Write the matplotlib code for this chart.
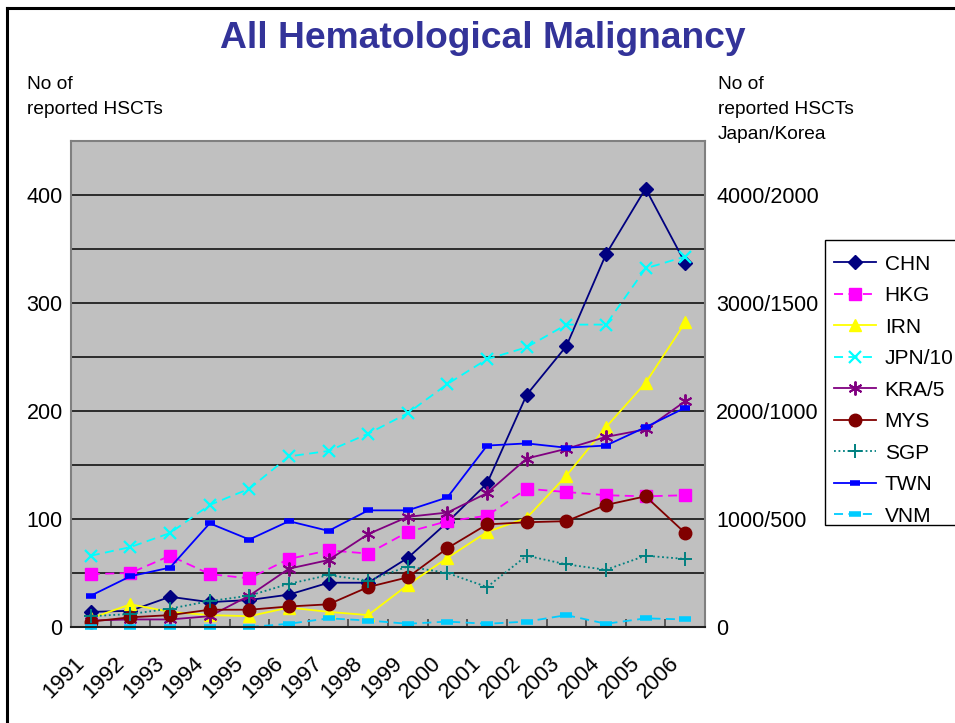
import matplotlib
matplotlib.use('Agg')
import matplotlib.pyplot as plt
from matplotlib.lines import Line2D
from matplotlib.patches import Rectangle
from matplotlib.transforms import ScaledTranslation
from matplotlib.ticker import MultipleLocator, FixedLocator, NullFormatter

plt.rcParams['font.family'] = ['Liberation Sans', 'DejaVu Sans']

years = ['1991', '1992', '1993', '1994', '1995', '1996', '1997', '1998',
         '1999', '2000', '2001', '2002', '2003', '2004', '2005', '2006']

chn = [14, 15, 28, 23, 25, 30, 41, 41, 64, 97, 133, 215, 260, 345, 406, 337]
hkg = [49, 50, 66, 49, 45, 63, 71, 68, 88, 98, 103, 128, 125, 122, 121, 122]
irn = [8, 21, 14, 11, 10, 18, 14, 11, 39, 64, 88, 101, 140, 185, 226, 282]
jpn10 = [66, 74, 87, 113, 128, 158, 163, 179, 198, 225, 248, 259, 280, 280, 332, 343]
kra5 = [6, 7, 7, 10, 29, 54, 62, 86, 102, 106, 124, 156, 165, 176, 183, 209]
mys = [5, 9, 11, 16, 16, 19, 21, 37, 46, 73, 95, 97, 98, 113, 121, 87]
sgp = [10, 12, 17, 24, 29, 40, 48, 43, 56, 50, 37, 66, 58, 53, 66, 63]
twn = [29, 47, 55, 96, 81, 98, 89, 108, 108, 120, 168, 170, 166, 168, 185, 203]
vnm = [0, 0, 0, 0, 0, 3, 8, 6, 3, 5, 3, 5, 11, 3, 8, 7]

series_names = ['CHN', 'HKG', 'IRN', 'JPN/10', 'KRA/5', 'MYS', 'SGP', 'TWN', 'VNM']

left_ticks = [0, 100, 200, 300, 400]
left_labels = ['0', '100', '200', '300', '400']
right_labels = ['0', '1000/500', '2000/1000', '3000/1500', '4000/2000']

W, H = 955, 723
fig = plt.figure(figsize=(W / 100, H / 100), dpi=100)

L, R, T, B = 71, 705, 141, 627
ax = fig.add_axes([L / W, 1 - B / H, (R - L) / W, (B - T) / H])
ax.set_facecolor('#C0C0C0')

x = list(range(len(years)))
styles = [
    (chn, dict(color='#000080', ls='-', marker='D', ms=7, mfc='#000080', mec='#000080')),
    (hkg, dict(color='#FF00FF', ls=(0, (5, 3)), marker='s', ms=8, mfc='#FF00FF', mec='#FF00FF')),
    (irn, dict(color='#FFFF00', ls='-', marker='^', ms=9, mfc='#FFFF00', mec='#FFFF00')),
    (jpn10, dict(color='#00FFFF', ls=(0, (5, 3)), marker='x', ms=9, mew=1.6, mec='#00FFFF')),
    (kra5, dict(color='#800080', ls='-', marker=(6, 2, 0), ms=10, mew=1.4, mec='#800080')),
    (mys, dict(color='#800000', ls='-', marker='o', ms=9, mfc='#800000', mec='#800000')),
    (sgp, dict(color='#008080', ls=(0, (1, 1.5)), marker='+', ms=10, mew=1.4, mec='#008080')),
    (twn, dict(color='#0000FF', ls='-', marker='_', ms=7, mew=4, mec='#0000FF')),
    (vnm, dict(color='#00CCFF', ls=(0, (5, 3)), marker='_', ms=9, mew=4, mec='#00CCFF')),
]
for (vals, st), name in zip(styles, series_names):
    ax.plot(x, vals, lw=1.3, label=name, **st, clip_on=False)

ax.set_xlim(-0.5, len(years) - 0.5)
ax.set_ylim(0, 450)
ax.yaxis.set_major_locator(FixedLocator(left_ticks))
ax.yaxis.set_minor_locator(MultipleLocator(50))
ax.set_yticklabels(left_labels, fontsize=15.5)
ax.tick_params(axis='y', which='both', length=0, pad=6)
ax.grid(axis='y', which='both', color='#202020', lw=1.3)
ax.set_axisbelow(True)

ax.set_xticks(x)
ax.set_xticklabels(years, fontsize=16, rotation=45, ha='right', va='center',
                   rotation_mode='anchor')
ax.tick_params(axis='x', which='major', length=0, pad=0)
ax.xaxis.set_minor_locator(FixedLocator([i + 0.5 for i in x[:-1]]))
ax.xaxis.set_minor_formatter(NullFormatter())
ax.tick_params(axis='x', which='minor', direction='in', length=6, width=1.3, color='#505050')
off = ScaledTranslation(-9 / 100, -33 / 100, fig.dpi_scale_trans)
for lab in ax.get_xticklabels():
    lab.set_transform(lab.get_transform() + off)

for side in ['left', 'top', 'right']:
    ax.spines[side].set_color('#808080')
    ax.spines[side].set_linewidth(1.5)
ax.spines['bottom'].set_color('#202020')
ax.spines['bottom'].set_linewidth(1.5)

ax2 = ax.twinx()
ax2.set_ylim(ax.get_ylim())
ax2.yaxis.set_major_locator(FixedLocator(left_ticks))
ax2.set_yticklabels(right_labels, fontsize=15.5)
ax2.tick_params(axis='y', length=0, pad=8)
for s in ax2.spines.values():
    s.set_visible(False)

fig.text(483 / W, 1 - 38 / H, 'All Hematological Malignancy', ha='center', va='center',
         fontsize=26.8, fontweight='bold', color='#333399')
fig.text(27 / W, 1 - 76 / H, 'No of\nreported HSCTs', ha='left', va='top',
         fontsize=13.8, linespacing=1.6)
fig.text(718 / W, 1 - 76 / H, 'No of\nreported HSCTs\nJapan/Korea', ha='left', va='top',
         fontsize=13.8, linespacing=1.6)

fig.add_artist(Rectangle((825 / W, 1 - 525 / H), 140 / W, 285 / H, transform=fig.transFigure,
                         facecolor='white', edgecolor='black', lw=1.0, zorder=5))
leg = fig.legend(loc='upper left', bbox_to_anchor=(819 / W, 1 - 240 / H),
                 bbox_transform=fig.transFigure, borderaxespad=0, fontsize=15,
                 handlelength=2.05, handletextpad=0.4, labelspacing=0.6,
                 borderpad=0.7, frameon=False)
leg.set_zorder(6)

fig.add_artist(Line2D([7 / W, 7 / W], [0, 1 - 8 / H], color='black', lw=2.2,
                      transform=fig.transFigure))
fig.add_artist(Line2D([7 / W, 1], [1 - 8 / H, 1 - 8 / H], color='black', lw=2.2,
                      transform=fig.transFigure))

fig.savefig('out.png', dpi=100)
